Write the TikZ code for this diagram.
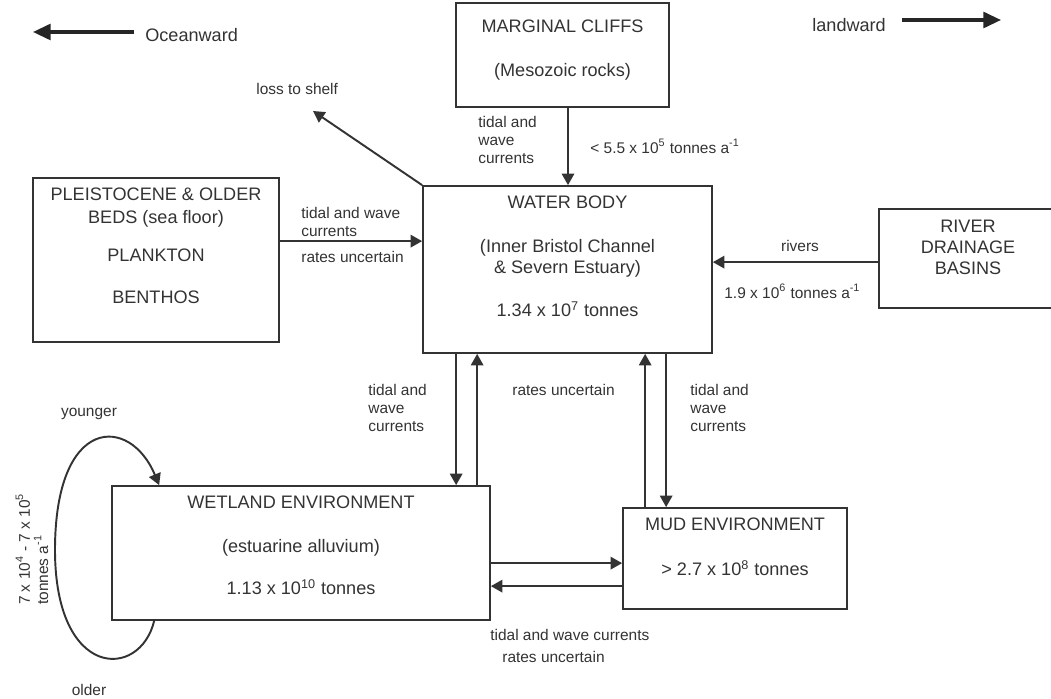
\documentclass[tikz,border=0pt]{standalone}
\usepackage{fontspec}
\setmainfont{Liberation Sans}
\usetikzlibrary{arrows.meta, positioning, calc}

\begin{document}
\begin{tikzpicture}[x=0.02cm, y=-0.02cm,
    box/.style={draw=black!80, line width=1pt, inner sep=0pt},
    boxtxt/.style={inner sep=0pt, align=center, text=black!80, font=\fontsize{10.3}{12}\selectfont},
    flowtxt/.style={inner sep=0pt, align=left, text=black!80, font=\fontsize{8.8}{10.3}\selectfont},
    dirtxt/.style={inner sep=0pt, text=black!80, font=\fontsize{10.3}{12}\selectfont},
    flow/.style={draw=black!80, line width=1.1pt, -{Triangle[length=6.5pt, width=7pt]}},
    dirarrow/.style={draw=black!85, line width=1.8pt, -{Triangle[length=10pt, width=9pt]}}]

\useasboundingbox (0,0) rectangle (1051,699);

% Compartments
\node[box, minimum width=4.26cm, minimum height=2.08cm] (cliffs) at (562.5,55) {};
\node[box, minimum width=4.92cm, minimum height=3.28cm] (pleist) at (156,260) {};
\node[box, minimum width=5.78cm, minimum height=3.34cm] (water) at (567.5,269.5) {};
\node[box, minimum width=3.56cm, minimum height=1.98cm] (river) at (968,258.5) {};
\node[box, minimum width=7.56cm, minimum height=2.68cm] (wetland) at (301,553) {};
\node[box, minimum width=4.48cm, minimum height=2.02cm] (mud) at (735,558.5) {};

% Compartment texts
\node[boxtxt, below=10pt of cliffs.north] (cliffstxt) {MARGINAL CLIFFS\\[13pt](Mesozoic rocks)};
\node[boxtxt, below=6pt of pleist.north] (pleisttxt) {PLEISTOCENE \& OLDER\\[1pt]BEDS (sea floor)\\[9.5pt]PLANKTON\\[12pt]BENTHOS};
\node[boxtxt, below=6pt of water.north] (watertxt) {WATER BODY\\[13pt](Inner Bristol Channel\\\& Severn Estuary)\\[12.5pt]1.34 x 10\textsuperscript{7} tonnes};
\node[boxtxt, below=6.5pt of river.north] (rivertxt) {RIVER\\DRAINAGE\\BASINS};
\node[boxtxt, below=6pt of wetland.north] (wetlandtxt) {WETLAND ENVIRONMENT\\[13pt](estuarine alluvium)\\[12pt]1.13 x 10\textsuperscript{10} tonnes};
\node[boxtxt, below=6pt of mud.north] (mudtxt) {MUD ENVIRONMENT\\[13.5pt]> 2.7 x 10\textsuperscript{8} tonnes};

% Direction arrows
\node[dirtxt, anchor=west] (ocean) at (145,35) {Oceanward};
\coordinate (oceanend) at (33,32);
\draw[dirarrow] ($(ocean.west)+(-11,-3)$) -- (oceanend);
\node[dirtxt, anchor=west] (land) at (812,25) {landward};
\coordinate (landend) at (1001,20);
\draw[dirarrow] (land.east |- landend) ++(16,0) -- (landend);

% Flows into the water body
\coordinate (c1) at ($(cliffs.south)+(5.5,0)$);
\draw[flow] (c1) -- (c1 |- water.north);
\node[flowtxt, anchor=west] (cliffcur) at (478,140) {tidal and\\wave\\currents};
\node[flowtxt, anchor=west] (cliffrate) at (590,146) {< 5.5 x 10\textsuperscript{5} tonnes a\textsuperscript{-1}};

\coordinate (p1) at ($(pleist.north east)+(0,64)$);
\draw[flow] (p1) -- (p1 -| water.west);
\node[flowtxt, anchor=west] (pleistcur) at (301,222) {tidal and wave\\currents};
\node[flowtxt, anchor=west] (pleistrate) at (301,257) {rates uncertain};

\coordinate (r1) at ($(river.north west)+(0,54)$);
\draw[flow] (r1) -- (r1 -| water.east);
\node[flowtxt] (rivlbl) at (800,246) {rivers};
\node[flowtxt, anchor=west] (rivrate) at (724,291) {1.9 x 10\textsuperscript{6} tonnes a\textsuperscript{-1}};

% Loss to shelf
\node[flowtxt, anchor=west] (shelf) at (256,89) {loss to shelf};
\coordinate (shelfend) at (313,111);
\draw[flow] (water.north west) -- (shelfend);

% Water body <-> wetland and mud
\coordinate (w1) at ($(water.south west)+(34,0)$);
\coordinate (w2) at ($(water.south west)+(55,0)$);
\coordinate (d1) at ($(water.south west)+(223,0)$);
\coordinate (d2) at ($(water.south west)+(244,0)$);
\draw[flow] (w1) -- (w1 |- wetland.north);
\draw[flow] (w2 |- wetland.north) -- (w2);
\draw[flow] (d1 |- mud.north) -- (d1);
\draw[flow] (d2) -- (d2 |- mud.north);
\node[flowtxt, anchor=west] (wetcur) at (368,408) {tidal and\\wave\\currents};
\node[flowtxt, anchor=west] (midrate) at (512,390) {rates uncertain};
\node[flowtxt, anchor=west] (mudcur) at (690,408) {tidal and\\wave\\currents};

% Wetland <-> mud
\coordinate (m1) at ($(wetland.north east)+(0,78)$);
\coordinate (m2) at ($(wetland.north east)+(0,101)$);
\draw[flow] (m1) -- (m1 -| mud.west);
\draw[flow] (m2 -| mud.west) -- (m2);
\node[flowtxt, anchor=west] (botcur) at (490,635) {tidal and wave currents};
\node[flowtxt, anchor=west] (botrate) at (502,657) {rates uncertain};

% Reworking loop
\coordinate (lpa) at ($(wetland.south west)+(43,0)$);
\coordinate (lpb) at ($(wetland.north west)+(48,0)$);
\draw[flow] (lpa) .. controls (140,680) and (55,680) .. (55,550)
    .. controls (55,415) and (130,415) .. (lpb);
\node[flowtxt] (younger) at (89,414) {younger};
\node[flowtxt] (older) at (89,690) {older};
\node[flowtxt, rotate=90] (looprate) at (32,549) {7 x 10\textsuperscript{4} - 7 x 10\textsuperscript{5}\\tonnes a\textsuperscript{-1}};

\end{tikzpicture}
\end{document}
